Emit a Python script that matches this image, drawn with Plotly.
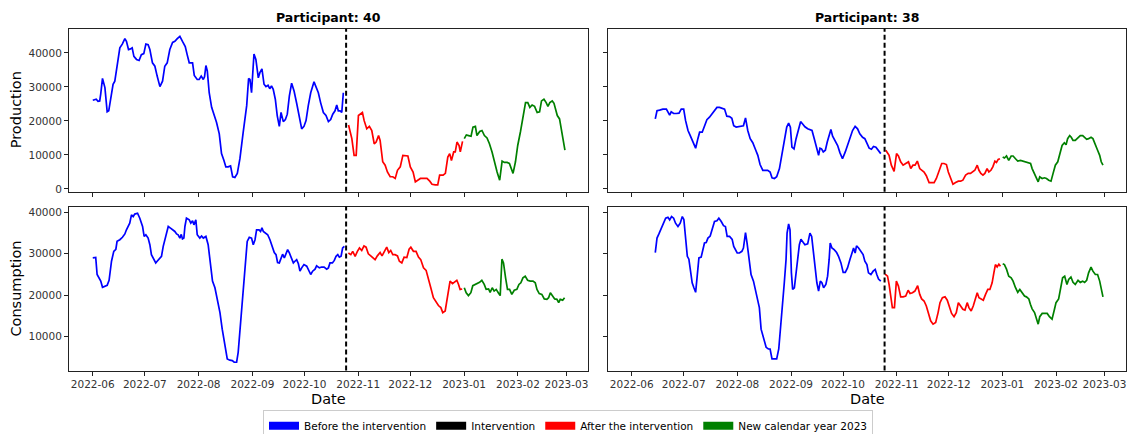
import pandas as pd
import plotly.graph_objects as go
from plotly.subplots import make_subplots

# ---------------- data ----------------
START_DATE = "2022-06-01"          # day offsets below count from this date
INTERVENTION_DATE = "2022-10-25"
NEW_YEAR_DATE = "2023-01-01"
participants = ["40", "38"]
measures = ["Production", "Consumption"]
segment_names = ["Before the intervention", "Intervention",
                 "After the intervention", "New calendar year 2023"]
segment_colors = ["blue", "black", "red", "green"]
month_ticks_from = "2022-06-01"
prod_ticks = [0, 10000, 20000, 30000, 40000]
cons_ticks = [10000, 20000, 30000, 40000]

p40_prod_days = [0, 2, 3, 4, 4.6, 5.6, 7, 8.3, 9.2, 10.4, 11.7, 12.7, 14, 15.6, 17, 18.5, 19.4, 20.6, 21.7, 22.7,
                 23.7, 25.2, 26.7, 28, 29.4, 30.6, 31.9, 32.9, 34.4, 35.8, 37.1, 38.7, 40.2, 41.5, 42.9, 44.4, 46, 47.3, 48.7, 50.2,
                 51.7, 53.3, 54.4, 55.6, 57.5, 58.5, 60.2, 61.3, 62.5, 63.7, 64.4, 65.2, 66, 67.1, 68.5, 69.8, 71.3, 72.9, 74.2, 75.6,
                 76.7, 78, 79.4, 80.6, 81.9, 83.3, 84.8, 86.7, 88.7, 89.8, 90.6, 91.5, 92.9, 94, 95.4, 96.3, 97.5, 98.7, 99.8, 101,
                 102, 103, 104, 105.2, 106.3, 107.5, 108.5, 109.8, 111, 112.1, 113.3, 114.6, 116, 117.5, 119, 120.4, 121.7, 122.9, 124.2, 125.6,
                 127.5, 129, 130, 131.3, 132.9, 134.4, 135.8, 137.1, 138.3, 139.6, 140.6, 141.5, 142.5, 143.5, 144.4,
                 147.4, 149.3, 150.6, 151.8, 153.1, 154.5, 155.4, 156.4, 157.9, 159.4, 160.8, 162.2, 163.3, 164.7, 165.6, 167.1, 168.5, 169.8, 171.4, 172.9,
                 174.3, 175.6, 177.2, 178.7, 180.1, 181.6, 183, 184.6, 185.9, 187.2, 188.8, 190.7, 192.6, 194.2, 195.5, 197.4, 198.8, 199.9, 201.9, 203.2,
                 204.6, 205.7, 206.7, 208, 208.9, 209.9, 211.1, 211.8, 213.1,
                 214.1, 215.3, 216.6, 218, 219.1, 220.5, 221.4, 223, 224.3, 225.7, 227.2, 228.6, 230.1, 231.4, 233, 234.5, 235.9, 237.2, 238.8, 240.1,
                 241.1, 242.2, 243.6, 244.9, 246.5, 248, 249.4, 250.7, 251.9, 253.2, 254.6, 256.1, 257.5, 258.6, 260, 261.3, 262.3, 263.4, 264.8, 265.8,
                 266.7, 267.7, 269, 270.2, 271.1, 272.1]
p40_prod_values = [26100, 26400, 25800, 25900, 28000, 32500, 29800, 22700, 23000, 27400, 30800, 31700, 36100, 41500, 42600, 44200, 43400, 41000, 41200, 41500,
                   39000, 38100, 37800, 39500, 39800, 42600, 42400, 41000, 37100, 36100, 33200, 30100, 31700, 36100, 37100, 41000, 43100, 43400, 44200, 44900,
                   43400, 41900, 39500, 37100, 37100, 33400, 32200, 32200, 33200, 32200, 33000, 36300, 34700, 28300, 24000, 22000, 19600, 16200, 10400, 8400,
                   6500, 6500, 6800, 3600, 3400, 4600, 8900, 16700, 24500, 32500, 32200, 28300, 39700, 38100, 32700, 34200, 35300, 30800, 30100, 30500,
                   29500, 30300, 29300, 26400, 21600, 18400, 22500, 19800, 20400, 22000, 27400, 31100, 28800, 25200, 21700, 17700, 18400, 20100, 24500, 28300,
                   31500, 29500, 28300, 25400, 22500, 21600, 19800, 20400, 22000, 23000, 24700, 23000, 23000, 22500, 28300,
                   18800, 14800, 9900, 9900, 21600, 22000, 22500, 20100, 17700, 18400, 17200, 13300, 13800, 15700, 14300, 8000, 7000, 5000, 3600, 3600,
                   3100, 5500, 6500, 9900, 9900, 9700, 6500, 5000, 2100, 2600, 3100, 3100, 3100, 2300, 1400, 1200, 1200, 4100, 4100, 4600,
                   9400, 10400, 8400, 10900, 10900, 13800, 12800, 10900, 14000,
                   14800, 15900, 15700, 15500, 18200, 18400, 15700, 16900, 17200, 15700, 15000, 13300, 10900, 8000, 5000, 2600, 8200, 7800, 7800, 7500,
                   6000, 4600, 8000, 12800, 16900, 22000, 25400, 25400, 24000, 24700, 24300, 22500, 22700, 25900, 26400, 25400, 24300, 25400, 25900, 25200,
                   23500, 21600, 20600, 17200, 14800, 11400]

p40_cons_days = [0, 1.7, 2.5, 3.7, 4.6, 5.6, 6.9, 8.3, 9.4, 10.8, 12.1, 13.3, 14, 15.6, 17.1, 18.5, 19.4, 20.4, 21.3, 22.3,
                 23.3, 24.2, 25.8, 27.1, 28.7, 29.6, 30.6, 31.9, 32.9, 33.8, 35.2, 36.3, 37.1, 38.7, 39.6, 40.6, 42.1, 43.5, 44.8, 46,
                 47.3, 48.3, 49.2, 50.2, 51, 51.7, 52.5, 53.1, 54, 55.6, 56.5, 57.5, 58.3, 59.4, 60.2, 61.7, 62.7, 63.7, 65.2, 66.5,
                 67.9, 69, 70.4, 71.7, 73.3, 74.6, 76.2, 77.5, 79, 80.4, 81.5, 82.9, 83.8, 85.2, 86.7, 88.1, 89, 90.2, 91.5, 92.5,
                 93.5, 94.4, 95.8, 96.7, 97.5, 98.3, 99.6, 100.8, 102.1, 103.5, 104.6, 105.6, 106.5, 107.5, 108.5, 109.4, 110.4, 111.3, 112.3, 113.3,
                 114.6, 115.6, 116.5, 117.5, 118.5, 119.4, 120.4, 121.7, 123.3, 124.2, 125.6, 126.7, 128.1, 129, 130.6, 131.9, 133.3, 134.8, 135.8, 136.7,
                 138.1, 139.2, 140.2, 141.2, 142.1, 143.1, 144, 145,
                 147.3, 148.7, 149.8, 151.2, 152.5, 153.7, 155, 156.3, 157.5, 158.8, 160.2, 161.3, 162.7, 164, 165.6, 166.7, 167.9, 169.4, 170.6, 171.7,
                 172.9, 174.2, 175.6, 176.7, 178.1, 179.4, 181, 182.3, 183.3, 184.8, 186.3, 187.7, 189, 190.6, 192.1, 193.4, 194.8, 196.3, 197.9, 199.2,
                 200.6, 201.7, 203.1, 204, 205, 205.9, 207.3, 208.5, 209.8, 210.8, 211.7, 212.9,
                 214.1, 215.2, 216.5, 217.9, 219, 220.4, 221.7, 222.9, 224.2, 225.6, 226.7, 228.1, 229, 230.2, 231.3, 232.5, 233.7, 234.8, 235.8, 236.7,
                 237.9, 239, 240.2, 241.5, 242.9, 244.4, 245.6, 246.7, 247.9, 249.2, 250.6, 252.1, 253.7, 255, 256, 257.3, 258.8, 260.2, 261.7, 262.7,
                 263.7, 265, 266.2, 267.5, 268.5, 269.4, 270.8, 271.9]
p40_cons_values = [29000, 29100, 25000, 24200, 23400, 21900, 22200, 22400, 23600, 28200, 30600, 31100, 33000, 33400, 34000, 34800, 35800, 36700, 37400, 39400,
                   39000, 39600, 39800, 38600, 36600, 34200, 34600, 33800, 32200, 29800, 28600, 27800, 28200, 29000, 29400, 31800, 34600, 36600, 36200, 35800,
                   35400, 34800, 34600, 33800, 34700, 33600, 33800, 36600, 38600, 38200, 37400, 38000, 37000, 38200, 34600, 33800, 34300, 33800, 34200, 32200,
                   27800, 23400, 21800, 19000, 15800, 11800, 8200, 4600, 4300, 4200, 3800, 3800, 6200, 13400, 20600, 26200, 33000, 34000, 33800, 32200,
                   33400, 35800, 35800, 35400, 36300, 35400, 35000, 34600, 33400, 31800, 30300, 29800, 27900, 27800, 29000, 29900, 29000, 30200, 31000, 30200,
                   28600, 27800, 28200, 28600, 27600, 25800, 26600, 27400, 27000, 26200, 25000, 25800, 26300, 27100, 26600, 26800, 26800, 26300, 26600, 27800,
                   27800, 28400, 29400, 29800, 29200, 29400, 31400, 31800,
                   30200, 29800, 30600, 29400, 30600, 31400, 30800, 31900, 31600, 30000, 29500, 29200, 28600, 29500, 30300, 29500, 30600, 31600, 30300, 30800,
                   29800, 29800, 29500, 28200, 27800, 29200, 29100, 31100, 31600, 30600, 30600, 29200, 28600, 26600, 26000, 24200, 21800, 19400, 18200, 17500,
                   17000, 15800, 16200, 18200, 21400, 23400, 22800, 23100, 23600, 22600, 21400, 21500,
                   21800, 20600, 19900, 20600, 22300, 22600, 23000, 23100, 23600, 22600, 21400, 21500, 20700, 21800, 21000, 21400, 20600, 19900, 28700, 27800,
                   24200, 21400, 21400, 20200, 21200, 21400, 22600, 23000, 24200, 24600, 23600, 23400, 23400, 23000, 21400, 20400, 20200, 19100, 19000, 19400,
                   20600, 19900, 19100, 19000, 18200, 19000, 18800, 19400]

p38_prod_days = [13.6, 14.6, 16.1, 18, 20, 20.9, 21.9, 22.8, 24.2, 25.7, 27.3, 28.6, 30, 31.1, 32.5, 33.8, 35.3, 36.9, 38.2, 39.2,
                 40.7, 42, 43.4, 44.9, 46.5, 47.8, 49.2, 50.7, 52.2, 53.6, 54.9, 56.5, 57.8, 58.9, 60.3, 61.8, 63.2, 64.5, 65.7, 67,
                 68.4, 69.9, 71.4, 72.8, 74.1, 75.7, 77.2, 78.5, 79.9, 81, 82.4, 83.7, 85.3, 86.8, 88.1, 89.5, 90.6, 91.6, 92.5, 93.7,
                 94.9, 96.2, 97.5, 98.7, 100, 101.6, 102.9, 104.1, 105.4, 106.8, 107.9, 108.7, 109.6, 110.6, 111.8, 112.9, 114, 115, 116, 117.5,
                 118.9, 120.2, 121.7, 123.3, 124.6, 126, 127.5, 129, 130.4, 131.7, 133.3, 134.6, 135.8, 137.1, 138.4, 139.6, 141, 142.3, 143.8,
                 146.7, 148.6, 149.9, 151.5, 152.9, 154, 155.3, 156.7, 158.2, 159.8, 161.1, 162.4, 163.6, 164.9, 166.3, 167.4, 168.8, 170.1, 171.7, 173.2,
                 174.6, 175.9, 177.5, 179, 180.3, 181.7, 182.8, 184.2, 185.5, 187, 188.6, 189.9, 191.2, 192.8, 194.3, 195.6, 197, 198.1, 199.5, 200.5,
                 201.6, 202.8, 203.9, 205.2, 206.2, 207.4, 208.5, 209.7, 210.6, 211.6, 212.6,
                 214.2, 215.2, 216.4, 217.7, 219.1, 220.2, 221.6, 222.9, 224.5, 225.8, 227.4, 228.9, 230.3, 231.2, 232.6, 233.7, 234.7, 235.6, 237, 238.3,
                 239.5, 240.8, 242.1, 243.3, 244.6, 246, 247.1, 248.5, 249.8, 250.8, 251.7, 252.9, 253.8, 254.8, 256.1, 257.7, 259, 260.4, 261.5, 262.7,
                 263.8, 265.2, 266.3, 267.7, 269, 270.2, 271.1, 272.1]
p38_prod_values = [20600, 23000, 23200, 23500, 23500, 22700, 21700, 22700, 22200, 22200, 22300, 23500, 23500, 20100, 17200, 15700, 13600, 12000, 14800, 16700,
                   16700, 18600, 20400, 21100, 22300, 23200, 24000, 24000, 23700, 23500, 21400, 21300, 20800, 18600, 18200, 18400, 18400, 18600, 20900, 17200,
                   14800, 13600, 11700, 9900, 7200, 5500, 5500, 5500, 5000, 3300, 3100, 3600, 6000, 10400, 14300, 18200, 19400, 18200, 12300, 11800,
                   14800, 17700, 19800, 19100, 18300, 17700, 17500, 17200, 14800, 11800, 9900, 12000, 11800, 10900, 11400, 13800, 16200, 17500, 15500, 14300,
                   12800, 10700, 8900, 10900, 13000, 15200, 17200, 18400, 17700, 16200, 15200, 14800, 13600, 12000, 11700, 12500, 12300, 11400, 10400,
                   11400, 9900, 7000, 5200, 10400, 9700, 8000, 7000, 7500, 8000, 6000, 7000, 7000, 8200, 6000, 5500, 5000, 3900, 1900, 1900,
                   1900, 3100, 5500, 7500, 7500, 7200, 5000, 3100, 1400, 1900, 2300, 2300, 2600, 4100, 4600, 4600, 5000, 5500, 7000, 5500,
                   4600, 4100, 4600, 6000, 5000, 5500, 6500, 8200, 7800, 8700, 8900,
                   9400, 9100, 9700, 8400, 9700, 9700, 8900, 8200, 8400, 8200, 7800, 7500, 7500, 6000, 4300, 3100, 2100, 3600, 3100, 3300,
                   3100, 2600, 2300, 4600, 7000, 8000, 9900, 12800, 13600, 13000, 14800, 15700, 15200, 14300, 14300, 15000, 15700, 15700, 15200, 14600,
                   14800, 15200, 14800, 12800, 11400, 9900, 8000, 7000]

p38_cons_days = [13.6, 14.6, 15.7, 17.1, 18.4, 19.6, 20.9, 21.9, 23, 24.2, 25.3, 26.7, 28, 29.2, 30.1, 31.1, 32.1, 33, 34, 34.9,
                 35.9, 36.9, 37.8, 38.8, 40.1, 41.1, 42, 43, 44, 45.3, 46.5, 47.8, 49.2, 50.3, 51.7, 53, 54.1, 55.1, 56.5, 58,
                 58.9, 59.9, 60.9, 62.2, 63.6, 64.5, 65.7, 66.6, 68, 68.9, 70.3, 71.4, 72.8, 73.7, 74.7, 75.7, 76.6, 77.6, 78.9, 79.9,
                 81, 82.4, 83.7, 84.9, 85.8, 87.2, 88.1, 89.1, 89.7, 90.6, 91.4, 92.2, 92.9, 93.9, 94.9, 95.8, 96.8, 97.7, 98.7, 100,
                 101.6, 102.9, 103.9, 104.8, 106, 106.9, 107.9, 108.9, 109.8, 110.8, 112.1, 113.1, 114, 114.6, 115.6, 116.9, 118.3, 119.4, 120.8, 122.1,
                 123.3, 124.6, 126, 127.1, 128.1, 129, 129.8, 131, 132.3, 133.6, 134.6, 135.8, 136.7, 138.1, 139.4, 140.6, 141.5, 142.5, 143.8,
                 146.3, 147.7, 148.6, 149.6, 150.5, 151.7, 152.8, 154, 155.3, 156.7, 158.2, 159.6, 160.7, 162.1, 163.5, 165.1, 166.3, 167.4, 168.8, 170.1,
                 171.3, 172.6, 174, 175.5, 176.9, 178, 179.4, 180.9, 182.2, 183.6, 184.7, 186.1, 187.4, 188.6, 189.9, 191.2, 192.4, 193.7, 194.7, 196,
                 197.2, 198.6, 199.5, 200.5, 201.8, 203, 204.3, 205.6, 206.8, 208.1, 209.1, 210, 211, 212, 212.9,
                 214.2, 215.2, 216.4, 217.7, 219.1, 220.2, 221.6, 222.9, 224.1, 225.5, 226.8, 227.9, 229.3, 230.2, 231.2, 232.6, 233.7, 234.7, 235.6, 237,
                 238.5, 239.9, 241.2, 242.7, 244.1, 245, 246.5, 247.5, 248.8, 250, 251.3, 252.3, 253.6, 254.8, 256.1, 257.7, 259, 260.4, 261.5, 262.7,
                 263.8, 265.2, 266.3, 267.7, 269, 270.2, 271.1, 272.1]
p38_cons_values = [30300, 33800, 34800, 36200, 37800, 38600, 38800, 38200, 39000, 38600, 37400, 36600, 37400, 39000, 38300, 34200, 29400, 28700, 25800, 23000,
                   21800, 20700, 24600, 29000, 29200, 31000, 32600, 32700, 33800, 34300, 35800, 37800, 38000, 38600, 37800, 36800, 36600, 34200, 34200, 33500,
                   31800, 31100, 30200, 30200, 30600, 31400, 35100, 32600, 28600, 25000, 23400, 21400, 19000, 17000, 11800, 10200, 8600, 7400, 7000, 7000,
                   4600, 4600, 4600, 7000, 11000, 18200, 23000, 28600, 35000, 37200, 35800, 25400, 21400, 21800, 25400, 29800, 32200, 33500, 33000, 32200,
                   32400, 35000, 34200, 30600, 27000, 23000, 21000, 23400, 23000, 21800, 22600, 24600, 28700, 32600, 31400, 31000, 30300, 29400, 27800, 25500,
                   25500, 26600, 28600, 30200, 31400, 30200, 31900, 31400, 30600, 29800, 28200, 27400, 25400, 25000, 25800, 26200, 25000, 23900, 23400,
                   25100, 24600, 22600, 20200, 17000, 17000, 23400, 22200, 19600, 19600, 19800, 21200, 20400, 20600, 21000, 22300, 20200, 19100, 18600, 17400,
                   15400, 13800, 13000, 13400, 15800, 18200, 19400, 19600, 18800, 17000, 15600, 14800, 15800, 18200, 17400, 16600, 16400, 18200, 17000, 16200,
                   17400, 19100, 20600, 19400, 19000, 18800, 20200, 21400, 21400, 23000, 25400, 27400, 26800, 27500, 27000,
                   27600, 27400, 26300, 24600, 24200, 23400, 21800, 20700, 21400, 20600, 19800, 19600, 19100, 17800, 16700, 15800, 14600, 13000, 14800, 15600,
                   15600, 15600, 14800, 14200, 16600, 18200, 19100, 21400, 24200, 24600, 22600, 23800, 24400, 23100, 22600, 23600, 23100, 23400, 23100, 23600,
                   25400, 26800, 25800, 25000, 25000, 23400, 21800, 19600]

# ---------------- geometry (pixels measured from the top-left of the page) ----------------
W, VIEW_H = 1127, 434
H = 452                      # figure a little taller than the window so the legend box runs off the bottom
col_px = [(69, 588), (608, 1126)]
row_px = [(29, 193), (208, 373)]
FONT = "DejaVu Sans"


def px_x(x):
    return x / W


def px_y(y):
    return 1 - y / H


def to_dates(days):
    return pd.Timestamp(START_DATE) + pd.to_timedelta(pd.Series(days, dtype=float), unit="D")


panels = {
    (1, 1): (p40_prod_days, p40_prod_values),
    (1, 2): (p38_prod_days, p38_prod_values),
    (2, 1): (p40_cons_days, p40_cons_values),
    (2, 2): (p38_cons_days, p38_cons_values),
}

fig = make_subplots(rows=2, cols=2)

t_int = pd.Timestamp(INTERVENTION_DATE)
t_new = pd.Timestamp(NEW_YEAR_DATE)

for (r, c), (days, vals) in panels.items():
    dates = to_dates(days)
    v = pd.Series(vals, dtype=float)
    masks = [dates < t_int, (dates >= t_int) & (dates < t_new), dates >= t_new]
    for m, color in zip(masks, [segment_colors[0], segment_colors[2], segment_colors[3]]):
        fig.add_trace(go.Scatter(x=dates[m], y=v[m], mode="lines",
                                 line=dict(color=color, width=1.7),
                                 showlegend=False, hoverinfo="skip"), row=r, col=c)

# legend patches (thick line swatches, no data)
for name, color in zip(segment_names, segment_colors):
    fig.add_trace(go.Scatter(x=[None], y=[None], name=name, mode="lines",
                             line=dict(color=color, width=8), showlegend=True), row=1, col=1)

# intervention dashed lines
axis_ids = {(1, 1): "", (1, 2): "2", (2, 1): "3", (2, 2): "4"}
for (r, c), k in axis_ids.items():
    fig.add_shape(type="line", x0=INTERVENTION_DATE, x1=INTERVENTION_DATE, y0=0, y1=1,
                  xref="x" + k, yref="y" + k + " domain",
                  line=dict(color="black", width=2, dash="5px,3px"))

x_range = [pd.Timestamp(START_DATE) - pd.Timedelta(days=13.7),
           pd.Timestamp("2023-03-01") + pd.Timedelta(days=12.4)]

axis_common = dict(showline=True, mirror=True, linecolor="#222", linewidth=1,
                   ticks="outside", ticklen=4, tickwidth=1, tickcolor="#222",
                   showgrid=False, zeroline=False,
                   tickfont=dict(family=FONT, size=10.5, color="#333"))

for (r, c), k in axis_ids.items():
    xd = [px_x(col_px[c - 1][0]), px_x(col_px[c - 1][1])]
    yd = [px_y(row_px[r - 1][1]), px_y(row_px[r - 1][0])]
    fig.update_layout(**{
        "xaxis" + k: dict(domain=xd, range=x_range, type="date", tickformat="%Y-%m",
                          tick0=month_ticks_from, dtick="M1", showticklabels=(r == 2),
                          **axis_common),
        "yaxis" + k: dict(domain=yd,
                          range=[-800, 47100] if r == 1 else [1800, 41400],
                          tickvals=prod_ticks if r == 1 else cons_ticks,
                          tickformat="d", showticklabels=(c == 1),
                          **axis_common),
    })

annotations = []
for c, p in enumerate(participants):
    cx = px_x((col_px[c][0] + col_px[c][1]) / 2)
    annotations.append(dict(text="<b>Participant: " + p + "</b>", x=cx, y=px_y(18),
                            xref="paper", yref="paper", showarrow=False,
                            xanchor="center", yanchor="middle",
                            font=dict(family=FONT, size=12.5, color="black")))
    annotations.append(dict(text="Date", x=cx, y=px_y(402), xref="paper", yref="paper",
                            showarrow=False, xanchor="center", yanchor="middle",
                            font=dict(family=FONT, size=14.5, color="black")))
for r, m in enumerate(measures):
    cy = px_y((row_px[r][0] + row_px[r][1]) / 2)
    annotations.append(dict(text=m, x=px_x(16), y=cy, xref="paper", yref="paper",
                            showarrow=False, textangle=-90, xanchor="center", yanchor="middle",
                            font=dict(family=FONT, size=14.5, color="black")))

fig.update_layout(
    width=W, height=H,
    margin=dict(l=0, r=0, t=0, b=0),
    paper_bgcolor="white", plot_bgcolor="white",
    annotations=annotations,
    legend=dict(orientation="h", x=px_x(568), xanchor="center", y=px_y(413), yanchor="top",
                bgcolor="white", bordercolor="#cccccc", borderwidth=1,
                font=dict(family=FONT, size=10.5, color="black"),
                itemclick=False, itemdoubleclick=False),
    font=dict(family=FONT),
)

page_css = ("document.documentElement.style.overflow='hidden';"
            "document.body.style.margin='0';"
            "document.body.style.overflow='hidden';"
            "document.body.style.height='%dpx';" % VIEW_H)

fig.write_html("out.html", config={"displayModeBar": False}, post_script=page_css)
